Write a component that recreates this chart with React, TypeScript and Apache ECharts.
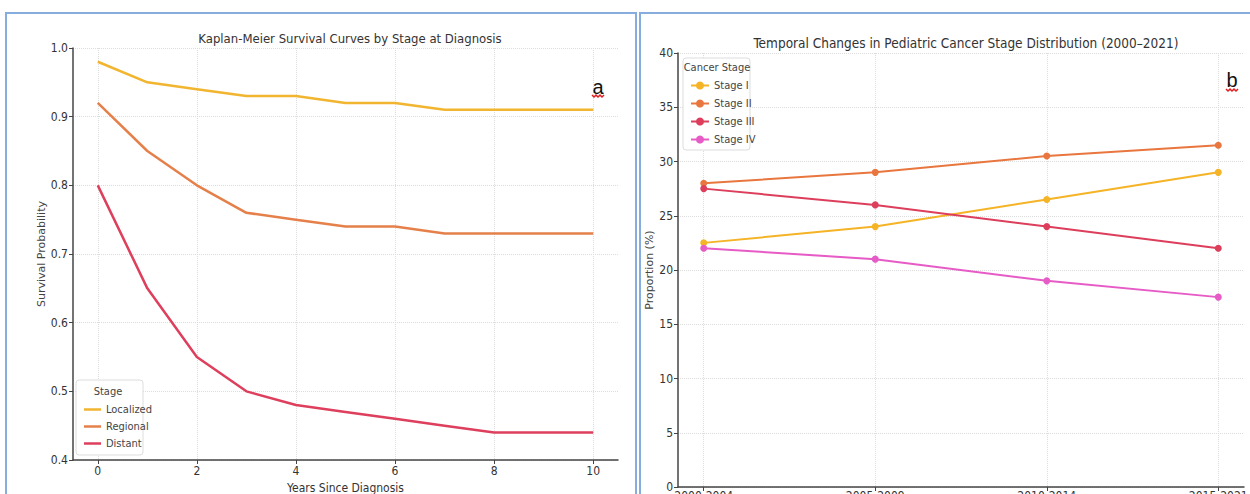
import React, { useEffect, useRef } from "react";
import * as echarts from "echarts";

const years = [0, 1, 2, 3, 4, 5, 6, 7, 8, 9, 10];
const localized = [0.98, 0.95, 0.94, 0.93, 0.93, 0.92, 0.92, 0.91, 0.91, 0.91, 0.91];
const regional = [0.92, 0.85, 0.8, 0.76, 0.75, 0.74, 0.74, 0.73, 0.73, 0.73, 0.73];
const distant = [0.8, 0.65, 0.55, 0.5, 0.48, 0.47, 0.46, 0.45, 0.44, 0.44, 0.44];
const yearTicks = [0, 2, 4, 6, 8, 10];

const periods = ["2000-2004", "2005-2009", "2010-2014", "2015-2021"];
const stageI = [22.5, 24, 26.5, 29];
const stageII = [28, 29, 30.5, 31.5];
const stageIII = [27.5, 26, 24, 22];
const stageIV = [22, 21, 19, 17.5];

const NARROW = "'Liberation Sans Narrow', 'DejaVu Sans Condensed', sans-serif";
const WIDE = "'DejaVu Sans', sans-serif";

const C_LOC = "#F2B530";
const C_REG = "#E5804A";
const C_DIS = "#DD3F5C";
const C_S1 = "#F5B326";
const C_S2 = "#E8763E";
const C_S3 = "#DC3E5B";
const C_S4 = "#E65BC6";

const axisLine = { show: true, onZero: false, lineStyle: { color: "#444", width: 1.5 } };
const axisTick = { show: true, length: 4, lineStyle: { color: "#444" } };
const splitLine = { show: true, lineStyle: { color: "#dcdcdc", type: "dotted" as const, width: 1 } };
const tickLabel = { color: "#333", fontSize: 12, fontFamily: NARROW, margin: 5 };

export default function App() {
  const ref = useRef<HTMLDivElement>(null);
  useEffect(() => {
    if (!ref.current) return;
    const chart = echarts.init(ref.current, undefined, { renderer: "svg" });
    const kmSeries = [
      { name: "Localized", vals: localized, color: C_LOC },
      { name: "Regional", vals: regional, color: C_REG },
      { name: "Distant", vals: distant, color: C_DIS },
    ].map((s) => ({
      name: s.name,
      type: "line",
      xAxisIndex: 0,
      yAxisIndex: 0,
      symbol: "none",
      data: years.map((y, i) => [y, s.vals[i]]),
      lineStyle: { color: s.color, width: 2.5 },
      itemStyle: { color: s.color },
    }));
    const stSeries = [
      { name: "Stage I", vals: stageI, color: C_S1 },
      { name: "Stage II", vals: stageII, color: C_S2 },
      { name: "Stage III", vals: stageIII, color: C_S3 },
      { name: "Stage IV", vals: stageIV, color: C_S4 },
    ].map((s) => ({
      name: s.name,
      type: "line",
      xAxisIndex: 1,
      yAxisIndex: 1,
      symbol: "circle",
      symbolSize: 7,
      data: periods.map((_, i) => [i, s.vals[i]]),
      lineStyle: { color: s.color, width: 2 },
      itemStyle: { color: s.color },
    }));

    const squiggle = (x0: number, y0: number, w: number) => {
      const pts: number[][] = [];
      for (let i = 0; i <= Math.round(w / 2); i++) pts.push([x0 + i * 2, y0 + (i % 2 === 0 ? 0 : 2)]);
      return pts;
    };

    chart.setOption({
      animation: false,
      backgroundColor: "#ffffff",
      title: [
        {
          text: "Kaplan-Meier Survival Curves by Stage at Diagnosis",
          left: 345,
          top: 27,
          textAlign: "center",
          textStyle: { fontFamily: NARROW, fontSize: 13, fontWeight: "normal", color: "#333" },
        },
        {
          text: "Temporal Changes in Pediatric Cancer Stage Distribution (2000–2021)",
          left: 961,
          top: 31,
          textAlign: "center",
          textStyle: { fontFamily: NARROW, fontSize: 13.5, fontWeight: "normal", color: "#333" },
        },
      ],
      grid: [
        { left: 73, top: 48, width: 545, height: 412, containLabel: false, outerBoundsMode: "none" },
        { left: 678, top: 53, width: 566, height: 434, containLabel: false, outerBoundsMode: "none" },
      ],
      xAxis: [
        {
          type: "value",
          gridIndex: 0,
          min: -0.5,
          max: 10.5,
          axisLine,
          axisTick: { ...axisTick, customValues: yearTicks },
          axisLabel: { ...tickLabel, customValues: yearTicks },
          splitLine,
          name: "Years Since Diagnosis",
          nameLocation: "middle",
          nameGap: 21,
          nameTextStyle: { fontFamily: NARROW, fontSize: 12, color: "#333" },
        },
        {
          type: "value",
          gridIndex: 1,
          min: -0.15,
          max: 3.15,
          axisLine,
          axisTick: { ...axisTick, customValues: [0, 1, 2, 3] },
          axisLabel: {
            ...tickLabel,
            margin: 3,
            customValues: [0, 1, 2, 3],
            formatter: (v: number) => periods[Math.round(v)] ?? "",
          },
          splitLine,
        },
      ],
      yAxis: [
        {
          type: "value",
          gridIndex: 0,
          min: 0.4,
          max: 1.0,
          interval: 0.1,
          axisLine,
          axisTick,
          axisLabel: { ...tickLabel, formatter: (v: number) => v.toFixed(1) },
          splitLine,
          name: "Survival Probability",
          nameLocation: "middle",
          nameGap: 23,
          nameTextStyle: { fontFamily: WIDE, fontSize: 11, color: "#444" },
        },
        {
          type: "value",
          gridIndex: 1,
          min: 0,
          max: 40,
          interval: 5,
          axisLine,
          axisTick,
          axisLabel: tickLabel,
          splitLine,
          name: "Proportion (%)",
          nameLocation: "middle",
          nameGap: 20,
          nameTextStyle: { fontFamily: WIDE, fontSize: 11, color: "#444" },
        },
      ],
      legend: [
        {
          data: ["Localized", "Regional", "Distant"],
          orient: "vertical",
          left: 79,
          top: 398,
          icon: "rect",
          itemWidth: 17,
          itemHeight: 2.5,
          itemGap: 4,
          z: 6,
          textStyle: { fontFamily: NARROW, fontSize: 11, color: "#444", lineHeight: 13 },
        },
        {
          data: ["Stage I", "Stage II", "Stage III", "Stage IV"],
          orient: "vertical",
          left: 685,
          top: 75,
          itemWidth: 18,
          itemHeight: 10,
          itemGap: 7,
          z: 6,
          textStyle: { fontFamily: NARROW, fontSize: 11, color: "#444" },
        },
      ],
      graphic: [
        { type: "rect", shape: { x: 6, y: 13, width: 630, height: 500 }, style: { fill: "none", stroke: "#86ADDD", lineWidth: 2 }, z: 10 },
        { type: "rect", shape: { x: 640, y: 13, width: 630, height: 500 }, style: { fill: "none", stroke: "#86ADDD", lineWidth: 2 }, z: 10 },
        { type: "rect", shape: { x: 76, y: 380, width: 67, height: 75, r: 3 }, style: { fill: "#fff", stroke: "#ddd", lineWidth: 1 }, z: 5 },
        { type: "text", x: 108, y: 391, style: { text: "Stage", fontFamily: NARROW, fontSize: 11, fill: "#444", align: "center", verticalAlign: "middle" }, z: 6 },
        { type: "rect", shape: { x: 683, y: 58, width: 67, height: 92, r: 3 }, style: { fill: "#fff", stroke: "#ddd", lineWidth: 1 }, z: 5 },
        { type: "text", x: 717, y: 67, style: { text: "Cancer Stage", fontFamily: NARROW, fontSize: 11, fill: "#444", align: "center", verticalAlign: "middle" }, z: 6 },
        { type: "text", x: 598, y: 87, style: { text: "a", fontFamily: "'Liberation Sans', sans-serif", fontSize: 20, fill: "#111", align: "center", verticalAlign: "middle" }, z: 6 },
        { type: "polyline", shape: { points: squiggle(592, 95, 12) }, style: { stroke: "#e02020", lineWidth: 1.5, fill: "none" }, z: 6 },
        { type: "text", x: 1232, y: 80, style: { text: "b", fontFamily: "'Liberation Sans', sans-serif", fontSize: 20, fill: "#111", align: "center", verticalAlign: "middle" }, z: 6 },
        { type: "polyline", shape: { points: squiggle(1226, 89, 12) }, style: { stroke: "#e02020", lineWidth: 1.5, fill: "none" }, z: 6 },
      ],
      series: [...kmSeries, ...stSeries],
    });
    return () => chart.dispose();
  }, []);
  return <div ref={ref} style={{ position: "fixed", left: 0, top: 0, width: 1250, height: 494 }} />;
}
